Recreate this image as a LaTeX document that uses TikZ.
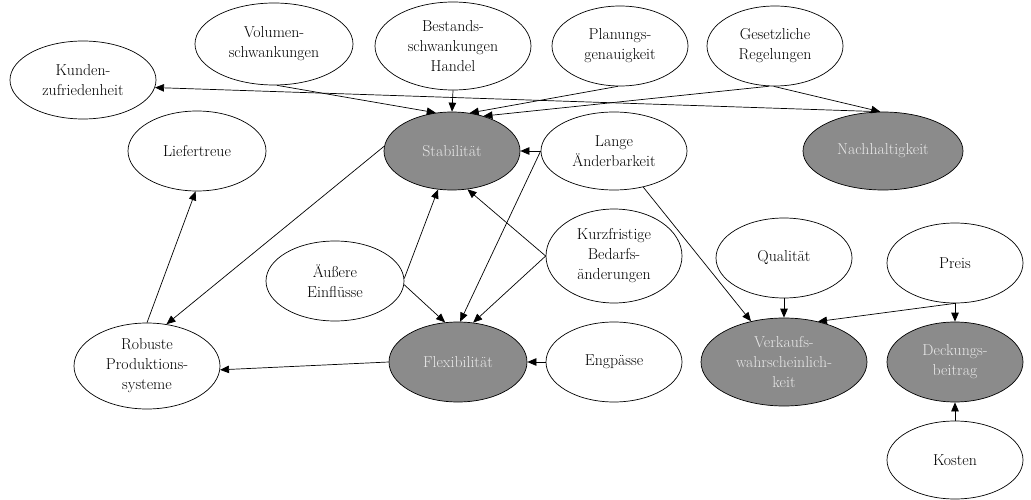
\documentclass[tikz,border=0pt]{standalone}
\usetikzlibrary{shapes.geometric,arrows.meta}
\definecolor{hubfill}{RGB}{139,139,139}
\definecolor{hubtext}{RGB}{232,232,232}
\begin{document}
\begin{tikzpicture}[x=1pt,y=-1pt,
  factor/.style={ellipse,draw=black,line width=0.7pt,inner sep=0pt,align=center,
    font=\fontsize{15.8}{20}\selectfont},
  hub/.style={factor,fill=hubfill,text=hubtext},
  link/.style={line width=0.7pt,-{Triangle[length=9pt,width=7.5pt]}}]
\useasboundingbox (0,0) rectangle (1031,500);

% outer row
\node[factor,minimum width=146pt,minimum height=78pt] (kund) at (83,80) {Kunden-\\zufriedenheit};
\node[factor,minimum width=158pt,minimum height=82pt] (vol) at (274,44) {Volumen-\\schwankungen};
\node[factor,minimum width=156pt,minimum height=88pt] (best) at (453,46) {Bestands-\\schwankungen\\Handel};
\node[factor,minimum width=136pt,minimum height=80pt] (plan) at (620,46) {Planungs-\\genauigkeit};
\node[factor,minimum width=136pt,minimum height=80pt] (gesetz) at (775,46) {Gesetzliche\\Regelungen};

% second row
\node[factor,minimum width=138pt,minimum height=80pt] (liefer) at (197,151) {Liefertreue};
\node[hub,minimum width=136pt,minimum height=78pt] (stab) at (452,151) {Stabilität};
\node[factor,minimum width=146pt,minimum height=78pt] (lange) at (614,151) {Lange\\Änderbarkeit};
\node[hub,minimum width=160pt,minimum height=78pt] (nach) at (883,151) {Nachhaltigkeit};

% third row
\node[factor,minimum width=138pt,minimum height=80pt] (aussen) at (335,281) {Äußere\\Einflüsse};
\node[factor,minimum width=136pt,minimum height=94pt] (kurz) at (614,256) {Kurzfristige\\Bedarfs-\\änderungen};
\node[factor,minimum width=136pt,minimum height=80pt] (qual) at (784,258) {Qualität};
\node[factor,minimum width=136pt,minimum height=80pt] (preis) at (955,263) {Preis};

% fourth row
\node[factor,minimum width=146pt,minimum height=86pt] (robust) at (147,366) {Robuste\\Produktions-\\systeme};
\node[hub,minimum width=138pt,minimum height=80pt] (flex) at (458,362) {Flexibilität};
\node[factor,minimum width=136pt,minimum height=80pt] (eng) at (614,362) {Engpässe};
\node[hub,minimum width=166pt,minimum height=88pt] (verk) at (784,362) {Verkaufs-\\wahrscheinlich-\\keit};
\node[hub,minimum width=136pt,minimum height=80pt] (deck) at (955,362) {Deckungs-\\beitrag};
\node[factor,minimum width=136pt,minimum height=78pt] (kosten) at (955,460) {Kosten};

% connectors
\draw[link] (vol.-86) -- (stab.113);
\draw[link] (best.south) -- (stab.north);
\draw[link] (plan.-93) -- (stab.65);
\draw[link] (gesetz.-98) -- (stab.48);
\draw[link] (gesetz.-92) -- (nach.94);
\draw[link] (nach.95) -- (kund.-6);
\draw[link] (lange.west) -- (stab.east);
\draw[link] (lange.west) -- (flex.87);
\draw[link] (lange.-51) -- (verk.129);
\draw[link] (kurz.west) -- (stab.-68);
\draw[link] (kurz.west) -- (flex.69);
\draw[link] (aussen.2) -- (stab.-110);
\draw[link] (aussen.-3) -- (flex.108);
\draw[link] (stab.176) -- (robust.65);
\draw[link] (robust.north) -- (liefer.-92);
\draw[link] (flex.west) -- (robust.-3);
\draw[link] (eng.west) -- (flex.east);
\draw[link] (qual.south) -- (verk.north);
\draw[link] (preis.-90) -- (verk.50);
\draw[link] (preis.south) -- (deck.north);
\draw[link] (kosten.north) -- (deck.south);
\end{tikzpicture}
\end{document}
